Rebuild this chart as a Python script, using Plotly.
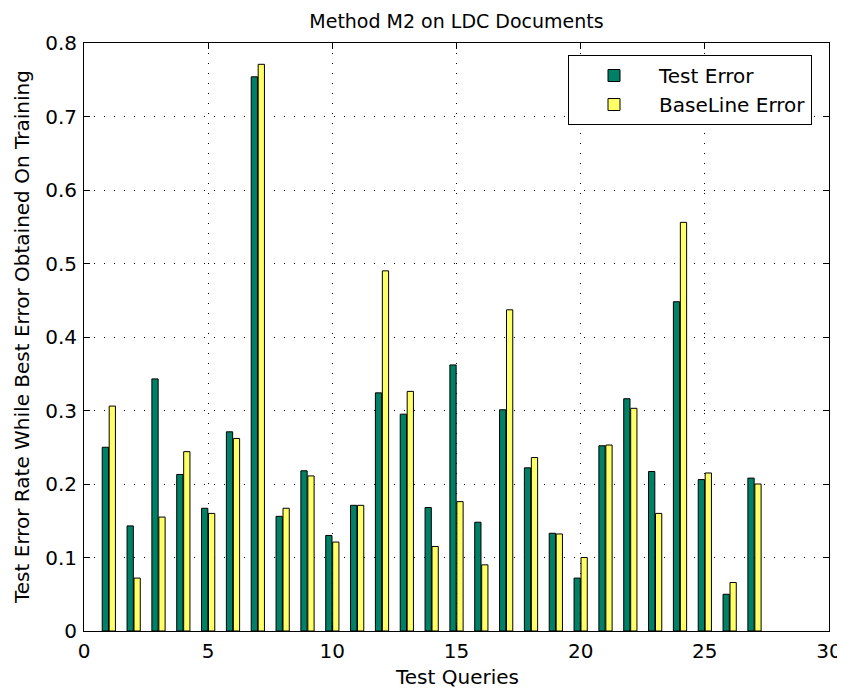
import plotly.graph_objects as go

queries = list(range(1, 28))
test_error = [0.250, 0.143, 0.343, 0.213, 0.167, 0.271, 0.754, 0.156, 0.218, 0.130,
              0.171, 0.324, 0.295, 0.168, 0.362, 0.148, 0.301, 0.222, 0.133, 0.072,
              0.252, 0.316, 0.217, 0.448, 0.206, 0.050, 0.208]
baseline_error = [0.306, 0.072, 0.155, 0.244, 0.160, 0.262, 0.771, 0.167, 0.211, 0.121,
                  0.171, 0.490, 0.326, 0.115, 0.176, 0.090, 0.437, 0.236, 0.132, 0.100,
                  0.253, 0.303, 0.160, 0.556, 0.215, 0.066, 0.200]
x_ticks = [0, 5, 10, 15, 20, 25, 30]
y_ticks = [0, 0.1, 0.2, 0.3, 0.4, 0.5, 0.6, 0.7, 0.8]

fig = go.Figure()
fig.add_trace(go.Bar(x=queries, y=test_error, name="Test Error",
                     marker=dict(color="rgb(0,128,102)", line=dict(color="black", width=1))))
fig.add_trace(go.Bar(x=queries, y=baseline_error, name="BaseLine Error",
                     marker=dict(color="rgb(255,255,102)", line=dict(color="black", width=1))))

font = "DejaVu Sans, sans-serif"
axis_common = dict(
    showline=True, linecolor="black", linewidth=1, mirror="ticks",
    ticks="inside", ticklen=6, tickcolor="black",
    showgrid=True, gridcolor="black", griddash="1px,9px", gridwidth=1,
    zeroline=False, automargin=False,
    tickfont=dict(size=20, color="black", family=font),
)
# page body has an 8px default margin, so the figure is 8px smaller on each axis
fig.update_layout(
    width=837, height=685,
    margin=dict(l=76, r=16, t=35, b=62),
    paper_bgcolor="white", plot_bgcolor="white",
    barmode="group", bargap=0.44, bargroupgap=0.1,
    title=dict(text="Method M2 on LDC Documents", x=0.5, xref="paper", xanchor="center",
               y=1 - 13 / 685, yanchor="middle",
               font=dict(size=19, color="black", family=font)),
    xaxis=dict(range=[0, 30], tickvals=x_ticks, ticklabelstandoff=2, **axis_common),
    yaxis=dict(range=[0, 0.8], tickvals=y_ticks, ticktext=[f"{v:g}" for v in y_ticks],
               ticklabelstandoff=2, **axis_common),
    legend=dict(x=(812 - 84) / 745, y=(631 - 55) / 588, xanchor="right", yanchor="top",
                bordercolor="black", borderwidth=1, bgcolor="white",
                font=dict(size=20, color="black", family=font),
                tracegroupgap=0, itemwidth=80),
    showlegend=True,
    annotations=[
        dict(text="Test Queries", xref="paper", yref="paper", x=0.5, y=-(677 - 631) / 588,
             xanchor="center", yanchor="middle", showarrow=False,
             font=dict(size=20, color="black", family=font)),
        dict(text="Test Error Rate While Best Error Obtained On Training", xref="paper", yref="paper",
             x=-(84 - 22) / 745, y=0.5, xanchor="center", yanchor="middle", textangle=-90,
             showarrow=False, font=dict(size=20, color="black", family=font)),
    ],
)
fig.write_html("out.html")
